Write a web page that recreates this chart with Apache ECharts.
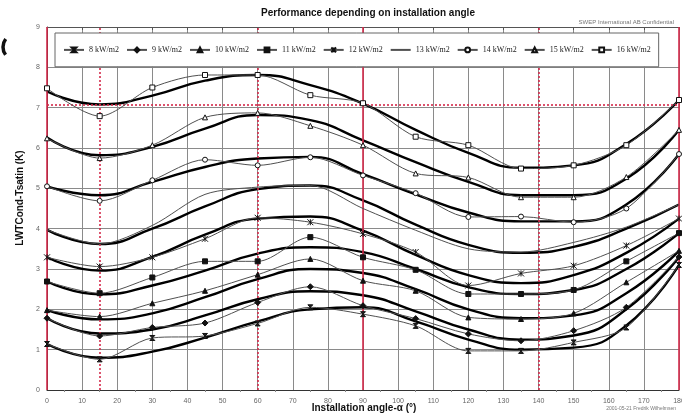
<!DOCTYPE html>
<html>
<head>
<meta charset="utf-8">
<script src="https://cdn.jsdelivr.net/npm/echarts@6/dist/echarts.min.js"></script>
<style>
html, body { margin: 0; padding: 0; background: #fff; }
#chart { width: 682px; height: 416px; }
</style>
</head>
<body>
<div id="chart"></div>
<script>
// installation angles (deg) where the measurements were taken
const angles = [0, 15, 30, 45, 60, 75, 90, 105, 120, 135, 150, 165, 180];

// measured values, LWTCond-Tsatin (K)
const m8  = [1.14, 0.76, 1.29, 1.34, 1.65, 2.05, 1.88, 1.59, 0.97, 0.97, 1.18, 1.55, 3.10];
const m9  = [1.78, 1.34, 1.55, 1.66, 2.17, 2.56, 2.09, 1.77, 1.39, 1.22, 1.47, 2.05, 3.30];
const m10 = [1.98, 1.82, 2.15, 2.46, 2.86, 3.25, 2.71, 2.46, 1.80, 1.76, 1.90, 2.67, 3.45];
const m11 = [2.69, 2.40, 2.79, 3.19, 3.19, 3.79, 3.29, 2.98, 2.38, 2.38, 2.48, 3.19, 3.89];
const m12 = [3.29, 3.06, 3.29, 3.75, 4.27, 4.16, 3.87, 3.42, 2.59, 2.89, 3.08, 3.58, 4.25];
const m13 = [3.97, 3.62, 4.08, 4.85, 5.03, 5.07, 4.50, 3.96, 3.50, 3.42, 3.66, 4.04, 4.60];
const m14 = [5.05, 4.69, 5.20, 5.71, 5.57, 5.77, 5.32, 4.88, 4.29, 4.30, 4.16, 4.50, 5.85];
const m15 = [6.24, 5.75, 6.07, 6.76, 6.87, 6.55, 6.07, 5.37, 5.27, 4.78, 4.78, 5.28, 6.45];
const m16 = [7.48, 6.79, 7.50, 7.81, 7.81, 7.31, 7.11, 6.28, 6.07, 5.49, 5.57, 6.07, 7.19];

// fitted curves
const f8  = [1.14, 0.80, 0.95, 1.30, 1.70, 2.00, 2.05, 1.70, 1.25, 1.00, 1.05, 1.60, 3.10];
const f9  = [1.78, 1.40, 1.50, 1.85, 2.25, 2.45, 2.35, 1.95, 1.50, 1.25, 1.35, 2.00, 3.30];
const f10 = [1.98, 1.75, 1.90, 2.30, 2.75, 3.00, 2.90, 2.50, 2.00, 1.78, 1.85, 2.40, 3.45];
const f11 = [2.69, 2.37, 2.59, 2.96, 3.38, 3.54, 3.42, 3.00, 2.55, 2.38, 2.48, 3.00, 3.89];
const f12 = [3.29, 2.96, 3.30, 3.85, 4.25, 4.30, 3.95, 3.35, 2.85, 2.65, 2.85, 3.40, 4.25];
const f13 = [3.97, 3.62, 4.00, 4.55, 4.98, 5.07, 4.70, 4.10, 3.60, 3.40, 3.55, 4.00, 4.60];
const f14 = [5.05, 4.83, 5.16, 5.53, 5.74, 5.78, 5.35, 4.85, 4.40, 4.18, 4.18, 4.60, 5.85];
const f15 = [6.26, 5.82, 6.03, 6.48, 6.82, 6.69, 6.19, 5.65, 5.16, 4.83, 4.83, 5.24, 6.45];
const f16 = [7.40, 7.08, 7.30, 7.67, 7.81, 7.56, 7.10, 6.45, 5.88, 5.51, 5.57, 6.10, 7.19];

const series_names = ['8 kW/m2', '9 kW/m2', '10 kW/m2', '11 kW/m2', '12 kW/m2',
                      '13 kW/m2', '14 kW/m2', '15 kW/m2', '16 kW/m2'];

// red reference lines
const red_solid_x = [0, 90, 180];
const red_dotted_x = [15, 60, 140];
const red_dotted_y = [7.07];

const RED = '#d42a4a';
const THIN = '#505050';

const symbols = [
    {symbol: 'path://M0,0L10,0L0,10L10,10Z', size: 5, fill: '#222'},
    {symbol: 'diamond', size: 6, fill: '#111'},
    {symbol: 'triangle', size: 5, fill: '#111'},
    {symbol: 'rect', size: 5, fill: '#111'},
    {symbol: 'path://M0,0L10,10M10,0L0,10M5,0L5,10', size: 6, fill: 'none'},
    {symbol: 'none', size: 0, fill: 'none'},
    {symbol: 'circle', size: 5, fill: '#fff'},
    {symbol: 'triangle', size: 5, fill: '#fff'},
    {symbol: 'rect', size: 5, fill: '#fff'}
];

const measured = [m8, m9, m10, m11, m12, m13, m14, m15, m16];
const fitted = [f8, f9, f10, f11, f12, f13, f14, f15, f16];

function pairs(values) {
    return angles.map((a, i) => [a, values[i]]);
}

let chart = echarts.init(document.getElementById('chart'));

let series_list = [];

fitted.forEach(function (f, i) {
    series_list.push({
        name: 'fit ' + series_names[i],
        type: 'line',
        data: pairs(f),
        smooth: 0.5,
        symbol: 'none',
        lineStyle: {color: '#000', width: 2.4},
        z: 4,
        silent: true
    });
});

measured.forEach(function (m, i) {
    let s = symbols[i];
    series_list.push({
        name: series_names[i],
        type: 'line',
        data: pairs(m),
        smooth: 0.3,
        symbol: s.symbol,
        symbolSize: s.size,
        showSymbol: s.symbol !== 'none',
        lineStyle: {color: THIN, width: 1},
        itemStyle: {color: s.fill, borderColor: '#111', borderWidth: 1},
        z: 5
    });
});

// red marker lines on an empty series
series_list.push({
    name: 'ref',
    type: 'line',
    data: [],
    silent: true,
    markLine: {
        symbol: 'none',
        label: {show: false},
        animation: false,
        data: red_solid_x.map(x => ({xAxis: x, lineStyle: {color: RED, width: 1.6, type: 'solid'}}))
            .concat(red_dotted_x.map(x => ({xAxis: x, lineStyle: {color: RED, width: 1.6, type: [2, 2]}})))
            .concat(red_dotted_y.map(y => ({yAxis: y, lineStyle: {color: RED, width: 1.6, type: [2, 2]}})))
    },
    z: 3
});

let legend_data = series_names.map(function (n, i) {
    if (symbols[i].symbol === 'none') {
        return {name: n, itemStyle: {opacity: 0}};
    }
    return {name: n};
});

let options = {
    animation: false,
    backgroundColor: '#fff',
    title: {
        text: 'Performance depending on installation angle',
        left: 363,
        textAlign: 'center',
        top: 3,
        textStyle: {fontFamily: 'Liberation Sans', fontSize: 10, fontWeight: 'bold', color: '#111'}
    },
    legend: {
        data: legend_data,
        left: 55,
        top: 33,
        width: 640,
        z: 20,
        padding: [12, 8, 12, 8],
        itemGap: 7,
        itemWidth: 20,
        itemHeight: 6,
        borderColor: '#666',
        borderWidth: 1,
        backgroundColor: '#fff',
        textStyle: {fontFamily: 'Liberation Serif', fontSize: 8, color: '#222'}
    },
    grid: {left: 47, right: 3, top: 27, bottom: 26, outerBoundsMode: 'none'},
    xAxis: [
        {
            type: 'value',
            min: 0,
            max: 180,
            interval: 10,
            axisLine: {lineStyle: {color: '#333'}},
            axisTick: {show: false},
            minorTick: {show: true, splitNumber: 2, length: 2, lineStyle: {color: '#888'}},
            axisLabel: {fontFamily: 'Liberation Sans', fontSize: 7, color: '#666', margin: 8},
            splitLine: {show: true, lineStyle: {color: '#8a8a8a', width: 1}}
        },
        {
            type: 'value',
            position: 'top',
            min: 0,
            max: 180,
            interval: 10,
            axisLine: {show: true, lineStyle: {color: '#555'}},
            axisTick: {show: true, inside: true, length: 3, lineStyle: {color: '#555'}},
            axisLabel: {show: false},
            splitLine: {show: false}
        }
    ],
    yAxis: {
        type: 'value',
        min: 0,
        max: 9,
        interval: 1,
        axisLine: {show: true, lineStyle: {color: '#333'}},
        axisTick: {show: false},
        axisLabel: {fontFamily: 'Liberation Sans', fontSize: 7, color: '#666', margin: 7},
        splitLine: {show: true, lineStyle: {color: '#8a8a8a', width: 1}}
    },
    graphic: [
        {
            type: 'text',
            x: 364,
            y: 408,
            style: {
                text: 'Installation angle-\u03b1 (\u00b0)',
                fontFamily: 'Liberation Sans', fontSize: 10, fontWeight: 'bold', fill: '#111',
                align: 'center', verticalAlign: 'middle'
            }
        },
        {
            type: 'text',
            x: 20,
            y: 198,
            rotation: Math.PI / 2,
            style: {
                text: 'LWTCond-Tsatin (K)',
                fontFamily: 'Liberation Sans', fontSize: 10, fontWeight: 'bold', fill: '#111',
                align: 'center', verticalAlign: 'middle'
            }
        },
        {
            type: 'text',
            right: 8,
            top: 19,
            style: {text: 'SWEP International AB Confidential', fontFamily: 'Liberation Sans', fontSize: 6, fill: '#777'}
        },
        {
            type: 'text',
            right: 6,
            top: 406,
            style: {text: '2001-05-21 Fredrik Wilhelmsen', fontFamily: 'Liberation Sans', fontSize: 5, fill: '#777'}
        },
        {
            type: 'arc',
            shape: {cx: 16, cy: 47, r: 13, startAngle: 2.5, endAngle: 3.8},
            style: {stroke: '#111', lineWidth: 3.5, fill: 'none'}
        }
    ],
    series: series_list
};

chart.setOption(options);
</script>
</body>
</html>
